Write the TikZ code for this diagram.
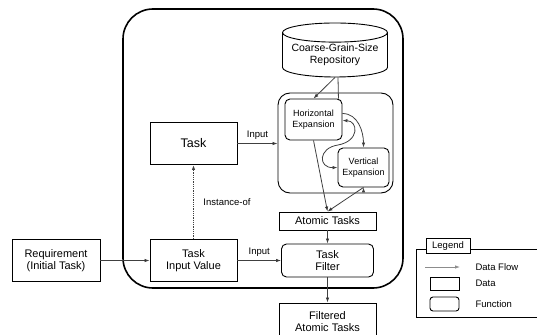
\documentclass[tikz,border=0pt]{standalone}
\usepackage{fontspec}
\setmainfont{Liberation Sans}
\usetikzlibrary{positioning,shapes.geometric,arrows.meta}

\begin{document}
\begin{tikzpicture}[x=1pt,y=-1pt,
  box/.style={draw,line width=0.9pt,minimum width=87pt,minimum height=42pt,align=center,inner sep=1pt,font=\fontsize{11}{12.5}\selectfont},
  func/.style={box,rounded corners=5pt},
  flow/.style={-{Latex[length=5pt,width=3.5pt]},draw=black!75,line width=0.8pt},
  lbl/.style={font=\fontsize{9.5}{11}\selectfont}]
   \useasboundingbox (0,0) rectangle (537,334);
   \draw[line width=1.6pt,rounded corners=30pt] (123,9) rectangle (403,288);
   \node[draw,line width=0.9pt,cylinder,shape border rotate=90,aspect=0.22,inner sep=0pt,minimum width=105pt,minimum height=54pt,align=center,font=\fontsize{10.5}{12.5}\selectfont] (repo) at (335,55) {Coarse-Grain-Size\\Repository};
   \node[draw,line width=0.9pt,rounded corners=12pt,minimum width=115pt,minimum height=100pt] (grp) at (335.5,143) {};
   \node[func,minimum width=57pt,minimum height=41pt,font=\fontsize{9}{10.5}\selectfont] (hexp) at (313.5,119.5) {Horizontal\\Expansion};
   \node[func,minimum width=51pt,minimum height=39pt,font=\fontsize{9}{10.5}\selectfont] (vexp) at (363.5,167.5) {Vertical\\Expansion};
   \node[box,font=\fontsize{12.5}{14}\selectfont] (task) at (193.5,143.5) {Task};
   \node[box] (taskin) at (193.5,260.5) {Task\\Input Value};
   \node[box,minimum width=88pt] (req) at (56,260.5) {Requirement\\(Initial Task)};
   \node[box,minimum width=97pt,minimum height=18pt] (atomic) at (327.5,221) {Atomic Tasks};
   \node[func,minimum width=92pt,minimum height=33pt,on grid,below=39.5pt of atomic] (filter) {Task\\Filter};
   \node[box,minimum width=97pt,minimum height=37pt,on grid,below=61pt of filter] (filtered) {Filtered\\Atomic Tasks};
   \path[flow]
    (req) edge (taskin)
    (task.east) edge node[lbl,above] {Input} (task.east -| grp.west)
    (taskin) edge node[lbl,above] {Input} (filter)
    (repo.south) edge (hexp.north)
    (hexp.south) edge (atomic.north)
    (vexp.south) edge (atomic.north)
    (atomic) edge (filter)
    (filter) edge (filtered);
   \draw[line width=0.8pt,draw=black!75] ([xshift=3pt]repo.south) -- ([xshift=-4pt]hexp.north east);
   \draw[flow,densely dotted,line width=1.2pt] (taskin) -- node[lbl,right=6pt] {Instance-of} (task);
   \draw[flow] ([yshift=6pt]hexp.east) to[out=0,in=90] (vexp.north);
   \draw[flow,{Latex[length=5pt,width=3.5pt]}-{Latex[length=5pt,width=3.5pt]}] (vexp.west) .. controls (318,168) and (318,148) .. (338,145) .. controls (360,141) and (358,121) .. ([yshift=-1pt]hexp.east);
   \draw[line width=0.9pt] (416,249) rectangle (545,317);
   \node[draw,line width=0.9pt,fill=white,lbl,minimum width=44pt,minimum height=14pt] (legend) at (448,246) {Legend};
   \coordinate (lgA) at (425,267);
   \coordinate (lgB) at (460,267);
   \draw[flow,draw=black!45] (lgA) -- (lgB);
   \node[lbl,anchor=west] (lgflow) at (472,267) {Data Flow};
   \node[draw,line width=0.9pt,minimum width=29pt,minimum height=13pt] (lgdata) at (444.5,283.5) {};
   \node[lbl,anchor=west] (lgdatatxt) at (472,283) {Data};
   \node[draw,line width=0.9pt,rounded corners=3pt,minimum width=29pt,minimum height=14pt] (lgfunc) at (444.5,304) {};
   \node[lbl,anchor=west] (lgfunctxt) at (472,304) {Function};
\end{tikzpicture}
\end{document}
